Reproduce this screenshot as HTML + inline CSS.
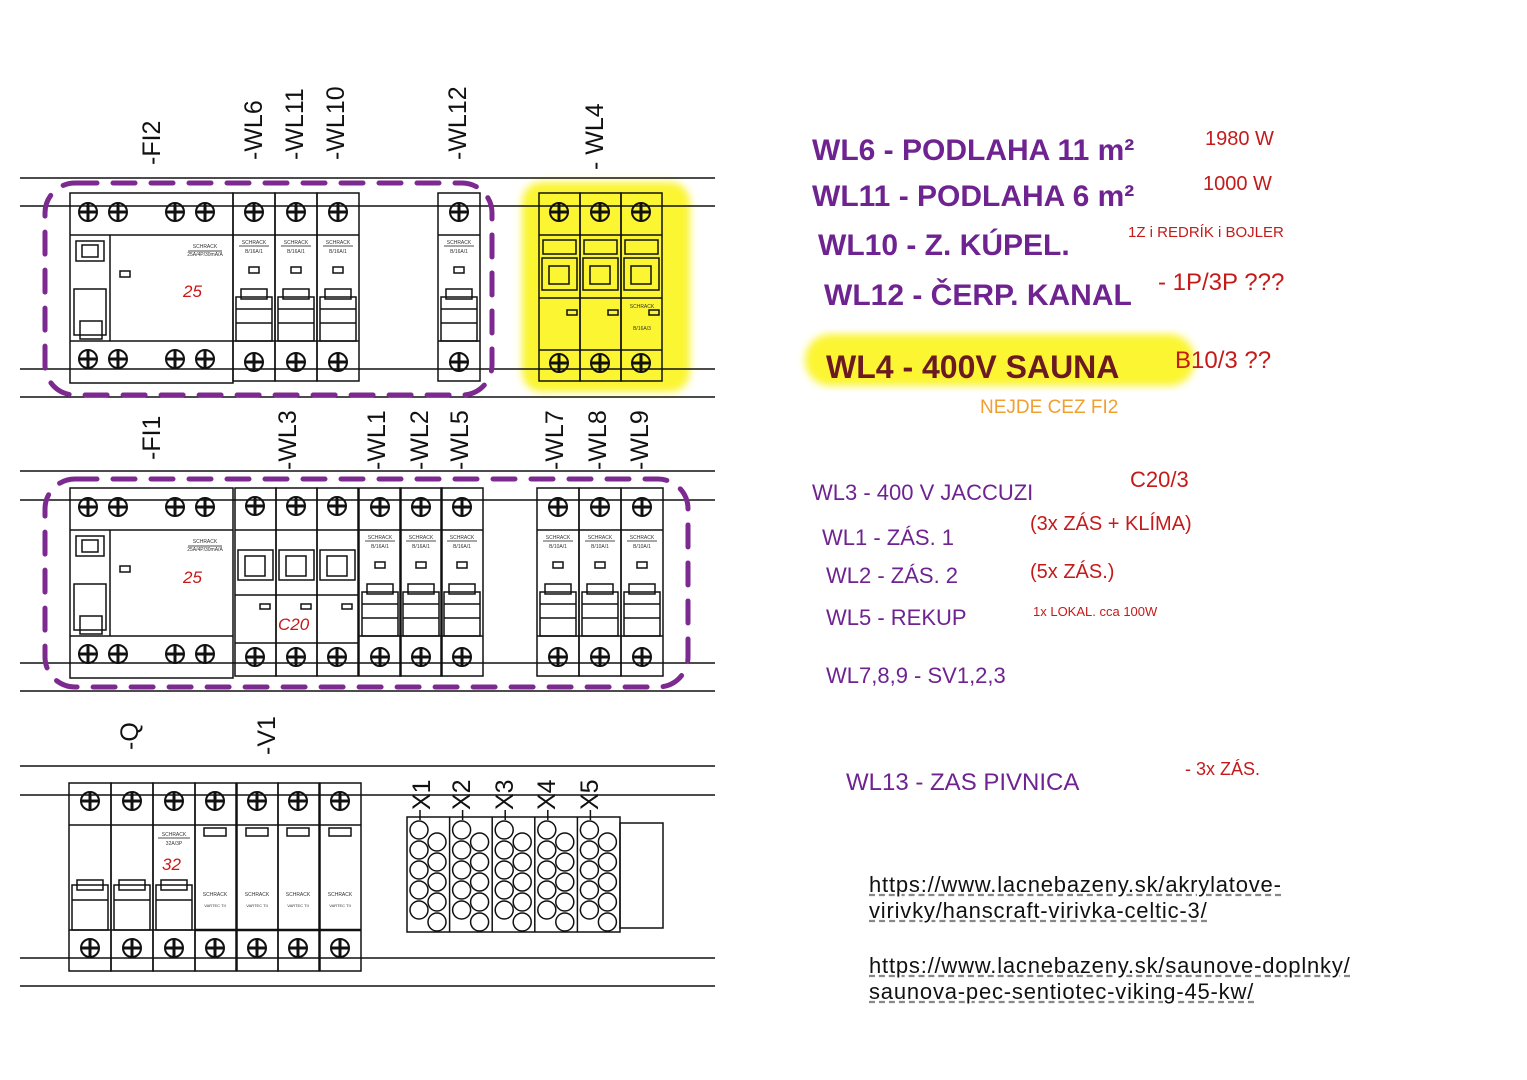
<!DOCTYPE html>
<html><head><meta charset="utf-8"><style>
html,body{margin:0;padding:0;background:#fff;width:1527px;height:1080px;overflow:hidden}
svg{display:block}
.lbl{font-family:"Liberation Sans",sans-serif;font-size:25px;fill:#111}
.hw{font-family:"Liberation Sans",sans-serif;font-weight:bold}
.url{position:absolute;font-family:"Liberation Sans",sans-serif;font-size:22px;letter-spacing:0.8px;color:#111;text-decoration:underline;text-decoration-style:dashed;text-decoration-color:#888;line-height:26px}
</style></head><body>
<svg id="s" width="1527" height="1080" viewBox="0 0 1527 1080" xmlns="http://www.w3.org/2000/svg">
<defs><filter id="bl"><feGaussianBlur stdDeviation="4"/></filter></defs>
<rect x="522" y="182" width="168" height="210" rx="20" fill="#fbf532" filter="url(#bl)"/>
<rect x="805" y="334" width="390" height="52" rx="26" fill="#fbf532" filter="url(#bl)"/>
<g id="g" stroke="#111" fill="none" stroke-width="1.5"></g>
<g class="lbl">
<text transform="translate(160,165) rotate(-90)">-FI2</text>
<text transform="translate(262,160) rotate(-90)">-WL6</text>
<text transform="translate(303,160) rotate(-90)">-WL11</text>
<text transform="translate(344,160) rotate(-90)">-WL10</text>
<text transform="translate(466,160) rotate(-90)">-WL12</text>
<text transform="translate(603,170) rotate(-90)">- WL4</text>
<text transform="translate(160,460) rotate(-90)">-FI1</text>
<text transform="translate(296,470) rotate(-90)">-WL3</text>
<text transform="translate(385,470) rotate(-90)">-WL1</text>
<text transform="translate(428,470) rotate(-90)">-WL2</text>
<text transform="translate(468,470) rotate(-90)">-WL5</text>
<text transform="translate(563,470) rotate(-90)">-WL7</text>
<text transform="translate(606,470) rotate(-90)">-WL8</text>
<text transform="translate(648,470) rotate(-90)">-WL9</text>
<text transform="translate(138,750) rotate(-90)">-Q</text>
<text transform="translate(275,755) rotate(-90)">-V1</text>
<text transform="translate(430,810) rotate(-90)">X1</text>
<text transform="translate(470,810) rotate(-90)">X2</text>
<text transform="translate(513,810) rotate(-90)">X3</text>
<text transform="translate(555,810) rotate(-90)">X4</text>
<text transform="translate(598,810) rotate(-90)">X5</text>
</g>
<g font-family="Liberation Sans,sans-serif" fill="#c81818" font-size="17" font-style="italic">
<text x="183" y="297">25</text><text x="183" y="583">25</text><text x="278" y="630">C20</text><text x="162" y="870">32</text>
</g>
<g fill="none" stroke="#7d2a90" stroke-width="5" stroke-dasharray="22,16" stroke-linecap="round">
<rect x="45" y="183" width="447" height="212" rx="30"/>
<rect x="45" y="479" width="643" height="208" rx="30"/>
</g>
<g class="hw" fill="#6e2390">
<text x="812" y="160" font-size="30">WL6 - PODLAHA 11 m²</text>
<text x="812" y="206" font-size="30">WL11 - PODLAHA 6 m²</text>
<text x="818" y="255" font-size="30">WL10 - Z. KÚPEL.</text>
<text x="824" y="305" font-size="30">WL12 - ČERP. KANAL</text>
<text x="812" y="500" font-size="22" font-weight="normal">WL3 -  400 V  JACCUZI</text>
<text x="822" y="545" font-size="22" font-weight="normal">WL1 -   ZÁS. 1</text>
<text x="826" y="583" font-size="22" font-weight="normal">WL2 -   ZÁS. 2</text>
<text x="826" y="625" font-size="22" font-weight="normal">WL5 -   REKUP</text>
<text x="826" y="683" font-size="22" font-weight="normal">WL7,8,9 -  SV1,2,3</text>
<text x="846" y="790" font-size="24" font-weight="normal">WL13 -  ZAS PIVNICA</text>
</g>
<text class="hw" x="826" y="378" font-size="32" fill="#6a1a20">WL4 -  400V SAUNA</text>
<g font-family="Liberation Sans,sans-serif" fill="#c41a1a">
<text x="1205" y="145" font-size="20">1980 W</text>
<text x="1203" y="190" font-size="20">1000 W</text>
<text x="1128" y="237" font-size="15">1Z i REDRÍK i BOJLER</text>
<text x="1158" y="290" font-size="24">- 1P/3P ???</text>
<text x="1175" y="368" font-size="24">B10/3 ??</text>
<text x="1130" y="487" font-size="22">C20/3</text>
<text x="1030" y="530" font-size="20">(3x ZÁS + KLÍMA)</text>
<text x="1030" y="578" font-size="20">(5x ZÁS.)</text>
<text x="1033" y="616" font-size="13">1x LOKAL. cca 100W</text>
<text x="1185" y="775" font-size="18">-     3x ZÁS.</text>
</g>
<text x="980" y="413" font-family="Liberation Sans,sans-serif" font-size="19" fill="#f0a030">NEJDE CEZ FI2</text>
</svg>
<div class="url" style="left:869px;top:872px">https://www.lacnebazeny.sk/akrylatove-<br>virivky/hanscraft-virivka-celtic-3/</div>
<div class="url" style="left:869px;top:953px">https://www.lacnebazeny.sk/saunove-doplnky/<br>saunova-pec-sentiotec-viking-45-kw/</div>
<script>
var g=document.getElementById('g'),NS='http://www.w3.org/2000/svg';
function el(t,a,p){var e=document.createElementNS(NS,t);for(var k in a)e.setAttribute(k,a[k]);(p||g).appendChild(e);return e}
function ln(x1,y1,x2,y2,w){el('line',{x1:x1,y1:y1,x2:x2,y2:y2,'stroke-width':w||1.5})}
function rc(x,y,w,h,f){el('rect',{x:x,y:y,width:w,height:h,fill:f||'none'})}
function sc(x,y){el('circle',{cx:x,cy:y,r:9,'stroke-width':2});ln(x-9,y,x+9,y,3);ln(x,y-9,x,y+9,3)}
function tx(x,y,s,t){var e=el('text',{x:x,y:y,'font-size':s,'text-anchor':'middle',fill:'#333',stroke:'none','font-family':'Liberation Sans,sans-serif'});e.textContent=t}
[178,206,369,397,471,500,663,691,766,795,958,986].forEach(function(y){ln(20,y,715,y,1.5)});
function mcb(x,y,w,lab,handle){rc(x,y,w,188);ln(x,y+42,x+w,y+42);ln(x,y+148,x+w,y+148);sc(x+w/2,y+19);sc(x+w/2,y+169);
 if(lab){tx(x+w/2,y+51,5,'SCHRACK');ln(x+6,y+53,x+w-6,y+53,0.8);tx(x+w/2,y+60,5,lab);rc(x+w/2-5,y+74,10,6)}
 if(handle!==false){rc(x+3,y+104,w-6,44);ln(x+3,y+116,x+w-3,y+116);ln(x+3,y+130,x+w-3,y+130);rc(x+8,y+96,w-16,10)}}
function rcd(x,y){rc(x,y,163,190);ln(x,y+42,x+163,y+42);ln(x,y+148,x+163,y+148);ln(x+40,y+42,x+40,y+148);
 [18,48,105,135].forEach(function(d){sc(x+d,y+19);sc(x+d,y+166)});
 rc(x+6,y+48,28,20);rc(x+12,y+52,16,12);rc(x+4,y+96,32,46);rc(x+10,y+128,22,18);rc(x+50,y+78,10,6);
 tx(x+135,y+55,5,'SCHRACK');ln(x+118,y+58,x+152,y+58,0.8);tx(x+135,y+63,5,'25A/4P/30mA/A')}
rcd(70,193);[233,275,317].forEach(function(x){mcb(x,193,42,'B/16A/1')});mcb(438,193,42,'B/16A/1');
[539,580,621].forEach(function(x,i){rc(x,193,41,188);ln(x,235,x+41,235);ln(x,350,x+41,350);sc(x+20,212);sc(x+20,363);rc(x+4,240,33,14);rc(x+3,258,35,32);rc(x+10,266,20,18);ln(x,298,x+41,298);rc(x+28,310,10,5)});
tx(642,308,5,'SCHRACK');tx(642,330,5,'B/16A/3');
rcd(70,488);[235,276,317].forEach(function(x){rc(x,488,41,188);ln(x,530,x+41,530);ln(x,643,x+41,643);sc(x+20,506);sc(x+20,657);rc(x+3,550,35,30);rc(x+10,556,20,20);rc(x+25,604,10,5)});ln(235,595,359,595);
[359,400,441,537,579,621].forEach(function(x,i){mcb(x,488,42,i<3?'B/16A/1':'B/10A/1')});
[69,111,153].forEach(function(x){rc(x,783,42,188);ln(x,825,x+42,825);ln(x,930,x+42,930);sc(x+21,801);sc(x+21,948);rc(x+3,885,36,45);rc(x+8,880,26,10);ln(x+3,900,x+39,900)});
tx(174,836,5,'SCHRACK');ln(158,838,190,838,0.8);tx(174,845,5,'32A/3P');
[195,237,278,320].forEach(function(x){rc(x,783,41,188);ln(x,825,x+41,825);ln(x,930,x+41,930,2.5);sc(x+20,801);sc(x+20,948);rc(x+9,828,22,8);tx(x+20,896,5,'SCHRACK');tx(x+20,907,4,'VARTEC TII')});
rc(407,817,213,115);rc(620,823,43,105);
for(var i=0;i<5;i++){var x=407+i*42.6;if(i)ln(x,817,x,932);ln(x+13,810,x+13,820);
 for(var j=0;j<5;j++){el('circle',{cx:x+12,cy:830+j*20,r:9});el('circle',{cx:x+30,cy:842+j*20,r:9})}}
</script>
</body></html>
